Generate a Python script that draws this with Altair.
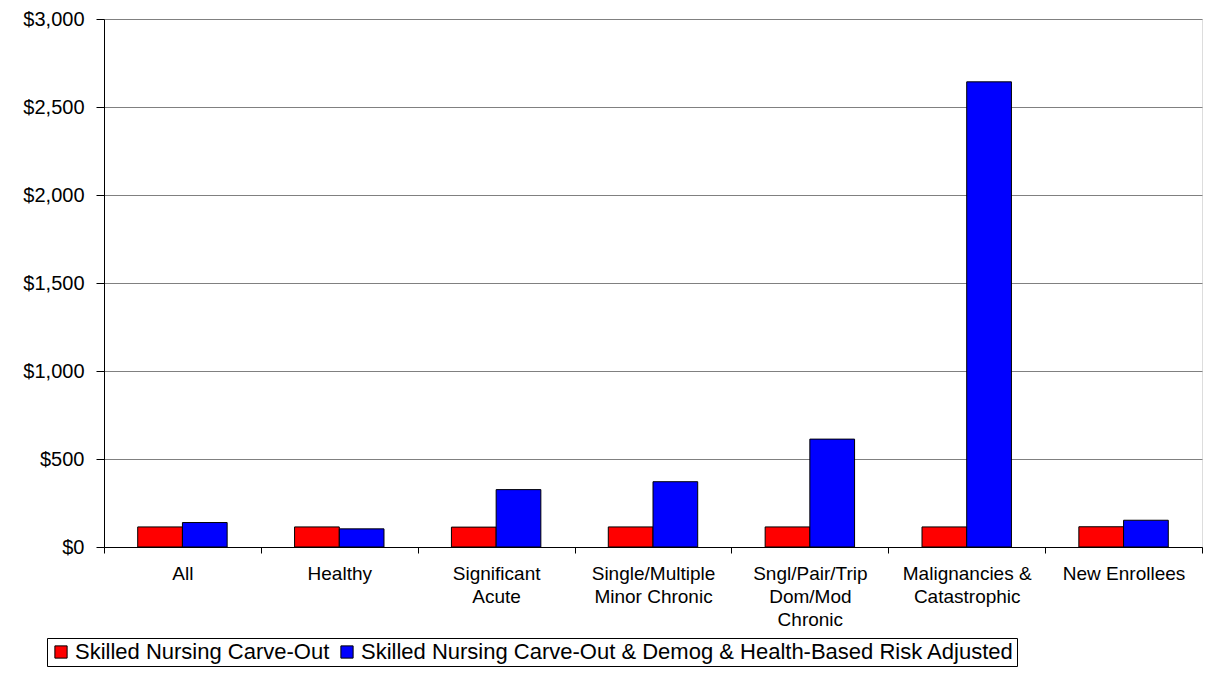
import altair as alt
import pandas as pd

categories = [
    "All",
    "Healthy",
    "Significant\nAcute",
    "Single/Multiple\nMinor Chronic",
    "Sngl/Pair/Trip\nDom/Mod\nChronic",
    "Malignancies &\nCatastrophic",
    "New Enrollees",
]
series_names = [
    "Skilled Nursing Carve-Out",
    "Skilled Nursing Carve-Out & Demog & Health-Based Risk Adjusted",
]
carve_out = [114, 114, 113, 114, 114, 114, 115]
risk_adjusted = [139, 103, 326, 371, 613, 2643, 152]
series_colors = ["#FF0000", "#0000FF"]

rows = []
for i, c in enumerate(categories):
    rows.append({"category": c, "series": series_names[0], "value": carve_out[i]})
    rows.append({"category": c, "series": series_names[1], "value": risk_adjusted[i]})
df = pd.DataFrame(rows)

FONT = "Liberation Sans"

chart = (
    alt.Chart(df)
    .mark_bar(stroke="black", strokeWidth=1)
    .encode(
        x=alt.X(
            "category:N",
            sort=categories,
            scale=alt.Scale(paddingInner=0, paddingOuter=0),
            axis=alt.Axis(
                title=None,
                labelAngle=0,
                labelExpr="split(datum.label, '\\n')",
                labelFont=FONT,
                labelFontSize=19,
                labelColor="black",
                labelLineHeight=23,
                labelPadding=11,
                tickBand="extent",
                tickSize=6,
                tickColor="black",
                domainColor="black",
                grid=False,
                labelLimit=300,
            ),
        ),
        xOffset=alt.XOffset(
            "series:N",
            sort=series_names,
            scale=alt.Scale(paddingInner=0, paddingOuter=0.754),
        ),
        y=alt.Y(
            "value:Q",
            scale=alt.Scale(domain=[0, 3000], nice=False),
            axis=alt.Axis(
                title=None,
                values=[0, 500, 1000, 1500, 2000, 2500, 3000],
                format="$,.0f",
                labelFont=FONT,
                labelFontSize=20,
                labelColor="black",
                labelPadding=12,
                tickSize=8,
                tickColor="black",
                domainColor="black",
                gridColor="#808080",
                gridWidth=1,
            ),
        ),
        color=alt.Color(
            "series:N",
            sort=series_names,
            scale=alt.Scale(domain=series_names, range=series_colors),
            legend=alt.Legend(
                title=None,
                orient="none",
                legendX=-57,
                legendY=619,
                direction="horizontal",
                columns=2,
                columnPadding=6,
                symbolType="square",
                symbolSize=150,
                symbolStrokeColor="black",
                symbolStrokeWidth=1,
                symbolOpacity=1,
                labelFont=FONT,
                labelFontSize=22,
                labelColor="black",
                labelLimit=1000,
                labelOffset=3,
                strokeColor="black",
                padding=3,
            ),
        ),
    )
    .properties(
        width=1098,
        height=528,
        autosize=alt.AutoSizeParams(type="none"),
        padding={"left": 96, "top": 11, "right": 1, "bottom": 120},
    )
    .configure_view(stroke="#808080", strokeWidth=1)
    .configure(background="white")
)

chart.save("out.html", embed_options={"renderer": "svg", "actions": False})
